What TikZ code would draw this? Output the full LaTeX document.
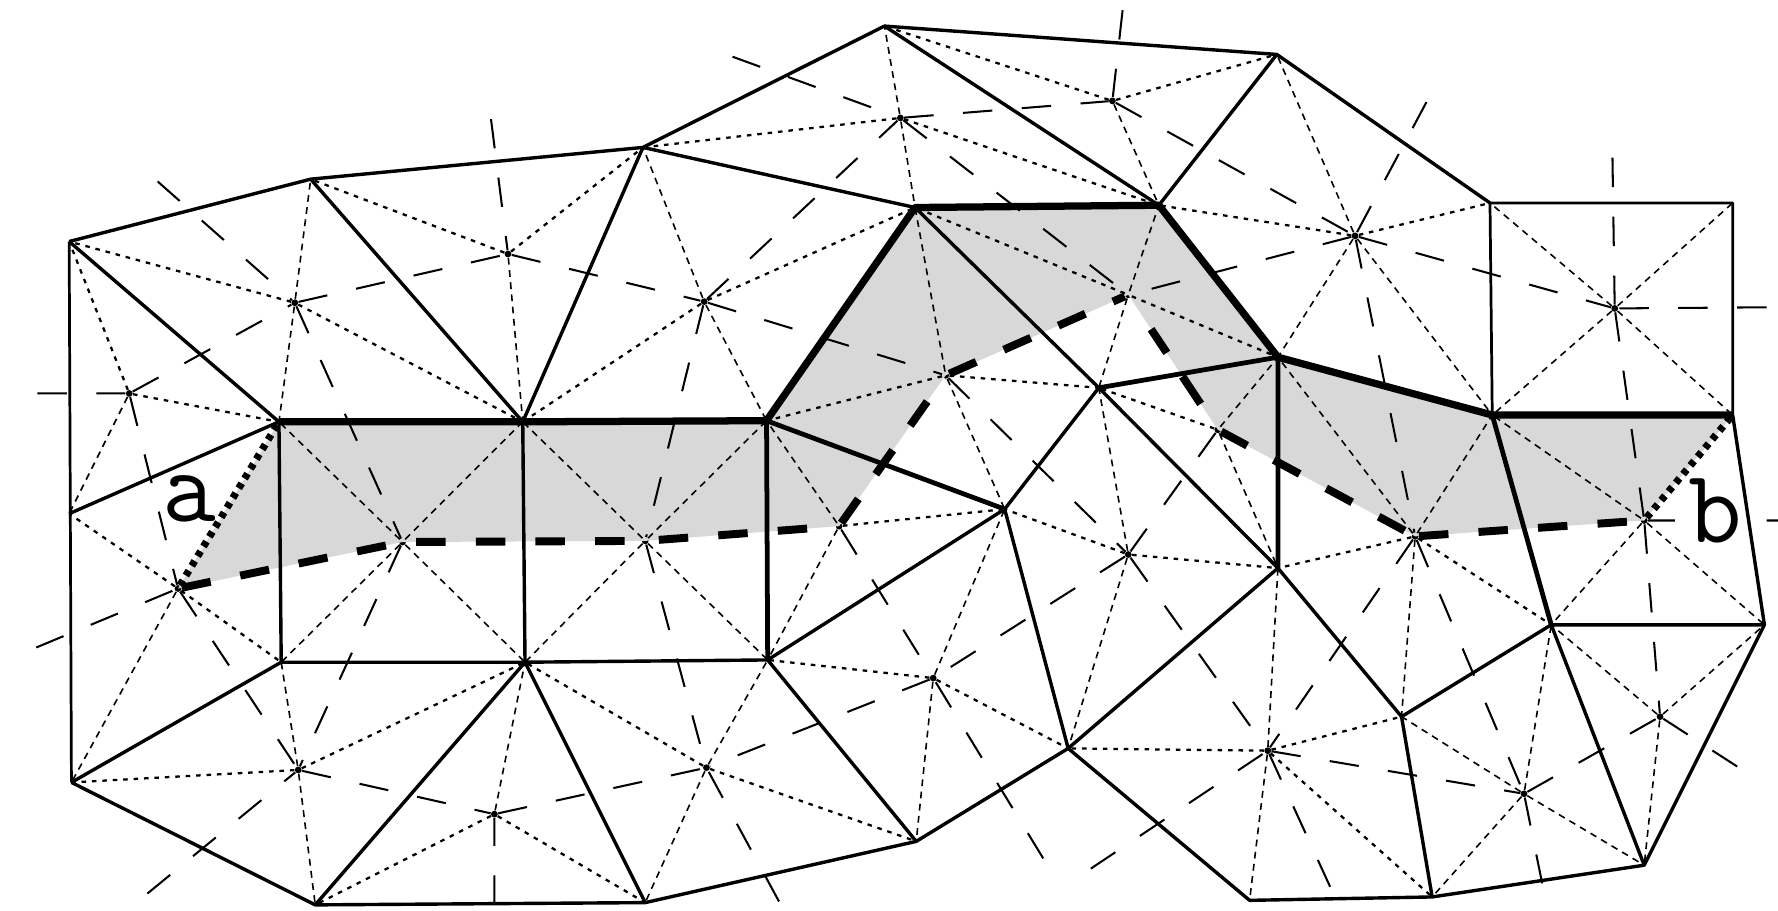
\documentclass[tikz,border=0pt]{standalone}
\usepackage{xcolor}
\usetikzlibrary{positioning}
\definecolor{greyfill}{RGB}{216,216,216}
\tikzset{
  edg/.style    ={draw=black, line width=1.5pt, line join=round},
  thinedg/.style={draw=black, line width=1.2pt, line join=round},
  medg/.style   ={draw=black, line width=2.1pt, line join=round},
  hvy/.style    ={draw=black, line width=3.2pt, line join=round},
  dot/.style    ={draw=black, line width=1pt, dash pattern=on 2pt off 2.6pt},
  das/.style    ={draw=black, line width=.7pt, dash pattern=on 3pt off 2.4pt},
  vor/.style    ={draw=black, line width=.9pt, dash pattern=on 13pt off 13pt},
  hvydash/.style={draw=black, line width=3.5pt, dash pattern=on 13pt off 13.3pt},
  hvydot/.style ={draw=black, line width=3.2pt, dash pattern=on 2.5pt off 2.5pt},
  ctr/.style    ={circle, fill=black, inner sep=0pt, minimum size=3pt},
  lbl/.style    ={font=\ttfamily\fontsize{46}{46}\selectfont, inner sep=0pt},
}
\begin{document}
\begin{tikzpicture}[x=.5pt,y=-.5pt]
\useasboundingbox (0,0) rectangle (1568,803);

\coordinate (p1) at (61,213);   \coordinate (p2) at (274,158);   \coordinate (p3) at (567,130);
\coordinate (p4) at (780,23);   \coordinate (p5) at (1126,48);   \coordinate (p6) at (1314,179);
\coordinate (p7) at (1528,179); \coordinate (p8) at (1022,181);  \coordinate (p9) at (807,183);
\coordinate (p10) at (246,372); \coordinate (p11) at (461,372);  \coordinate (p12) at (676,371);
\coordinate (p13) at (1127,315);\coordinate (p14) at (1316,366); \coordinate (p15) at (1528,366);
\coordinate (p16) at (969,342); \coordinate (p17) at (61,453);   \coordinate (p18) at (248,584);
\coordinate (p19) at (463,584); \coordinate (p20) at (677,582);  \coordinate (p21) at (886,449);
\coordinate (p22) at (1127,501);\coordinate (p23) at (1368,551); \coordinate (p24) at (1556,551);
\coordinate (p25) at (63,690);  \coordinate (p26) at (278,798);  \coordinate (p27) at (569,796);
\coordinate (p28) at (808,742); \coordinate (p29) at (942,660);  \coordinate (p30) at (1236,632);
\coordinate (p31) at (1102,794);\coordinate (p32) at (1263,791); \coordinate (p33) at (1450,763);

\node[ctr] (c1) at (114,347) {};   \node[ctr] (c2) at (260,267) {};   \node[ctr] (c3) at (448,224) {};
\node[ctr] (c4) at (621,266) {};   \node[ctr] (c5) at (794,104) {};   \node[ctr] (c6) at (981,89) {};
\node[ctr] (c7) at (1195,208) {};  \node[ctr] (c8) at (1424,272) {};  \node[ctr] (c9) at (995,260) {};
\node[ctr] (c10) at (834,331) {};  \node[ctr] (c11) at (157,519) {};  \node[ctr] (c12) at (355,478) {};
\node[ctr] (c13) at (569,477) {};  \node[ctr] (c14) at (740,464) {};  \node[ctr] (c15) at (1074,379) {};
\node[ctr] (c16) at (1248,473) {}; \node[ctr] (c17) at (1450,459) {}; \node[ctr] (c18) at (995,489) {};
\node[ctr] (c19) at (823,598) {};  \node[ctr] (c20) at (1118,662) {}; \node[ctr] (c21) at (1344,700) {};
\node[ctr] (c22) at (1464,632) {}; \node[ctr] (c23) at (263,679) {};  \node[ctr] (c24) at (436,718) {};
\node[ctr] (c25) at (623,677) {};

\coordinate (r1) at (33,347);    \coordinate (r2) at (139,160);   \coordinate (r3) at (433,105);
\coordinate (r5) at (646,50);    \coordinate (r6) at (990,9);     \coordinate (r7) at (1258,90);
\coordinate (r8a) at (1422,139); \coordinate (r8b) at (1558,271); \coordinate (r11) at (32,571);
\coordinate (r17a) at (1477,459);\coordinate (r17b) at (1558,459);\coordinate (r17c) at (1568,459);
\coordinate (r19) at (920,757);  \coordinate (r20a) at (962,766); \coordinate (r20b) at (1173,782);
\coordinate (r21) at (1360,779); \coordinate (r22) at (1532,676); \coordinate (r23) at (130,788);
\coordinate (r24) at (436,798);  \coordinate (r25) at (687,795);

\fill[greyfill] (p10)--(p11)--(p12)--(p9)--(p8)--(p13)--(p14)--(p15)--(c17.center)--(c16.center)--(c15.center)
  --(c9.center)--(c10.center)--(c14.center)--(c13.center)--(c12.center)--(c11.center)--cycle;

\draw[dot] (c1)--(p1) (c1)--(p10) (c2)--(p1) (c2)--(p11) (c3)--(p2) (c3)--(p3) (c4)--(p9) (c4)--(p11);
\draw[dot] (c5)--(p3) (c5)--(p8) (c6)--(p4) (c6)--(p5) (c7)--(p8) (c7)--(p6) (c9)--(p9) (c9)--(p13);
\draw[dot] (c10)--(p12) (c10)--(p16) (c14)--(p21) (c15)--(p16) (c16)--(p22) (c16)--(p23) (c18)--(p21) (c18)--(p22);
\draw[dot] (c19)--(p20) (c19)--(p29) (c20)--(p29) (c20)--(p30) (c20)--(p32) (c23)--(p19) (c23)--(p25);
\draw[dot] (c24)--(p26) (c24)--(p27) (c25)--(p19) (c25)--(p28) (c11)--(p17) (c11)--(p18);

\draw[das] (c1)--(p17) (c2)--(p2) (c2)--(p10) (c3)--(p11) (c4)--(p3) (c4)--(p12) (c5)--(p4) (c5)--(p9);
\draw[das] (c6)--(p8) (c7)--(p5) (c7)--(p13) (c7)--(p14) (c8)--(p6) (c8)--(p7) (c8)--(p14) (c8)--(p15);
\draw[das] (c9)--(p8) (c9)--(p16) (c10)--(p9) (c10)--(p21) (c11)--(p25) (c12)--(p10) (c12)--(p11) (c12)--(p18) (c12)--(p19);
\draw[das] (c13)--(p11) (c13)--(p12) (c13)--(p19) (c13)--(p20) (c14)--(p12) (c14)--(p20) (c15)--(p13) (c15)--(p22);
\draw[das] (c16)--(p13) (c16)--(p14) (c16)--(p30) (c17)--(p14) (c17)--(p23) (c17)--(p24) (c18)--(p16) (c18)--(p29);
\draw[das] (c19)--(p21) (c19)--(p28) (c20)--(p22) (c20)--(p31) (c21)--(p30) (c21)--(p23) (c21)--(p32) (c21)--(p33);
\draw[das] (c22)--(p23) (c22)--(p24) (c22)--(p33) (c23)--(p18) (c23)--(p26) (c24)--(p19) (c25)--(p20) (c25)--(p27);

\draw[vor] (r1)--(c1) (c1)--(c2) (c1)--(c11) (r2)--(c2) (c2)--(c3) (c2)--(c12) (r3)--(c3);
\draw[vor] (c3)--(c4) (c4)--(c5) (c4)--(c10) (c4)--(c13) (r5)--(c5) (c5)--(c6) (c5)--(c9);
\draw[vor] (r6)--(c6) (c6)--(c7) (r7)--(c7) (c7)--(c8) (c7)--(c9) (c7)--(c16);
\draw[vor] (r8a)--(c8) (r8b)--(c8) (c8)--(c17) (c10)--(c18) (r11)--(c11) (c11)--(c23);
\draw[vor] (c12)--(c23) (c13)--(c25) (c14)--(c19) (c15)--(c18) (c16)--(c20) (c16)--(c21);
\draw[vor] (c17)--(r17a) (r17b)--(r17c) (c17)--(c22) (c18)--(c19) (c18)--(c20) (r19)--(c19) (c19)--(c25);
\draw[vor] (r20a)--(c20) (r20b)--(c20) (c20)--(c21) (r21)--(c21) (c21)--(c22) (r22)--(c22);
\draw[vor] (r23)--(c23) (c23)--(c24) (r24)--(c24) (c24)--(c25) (r25)--(c25);

\draw[thinedg] (p1)--(p25) (p6)--(p7)--(p15) (p6)--(p14);
\draw[edg] (p25)--(p26)--(p27)--(p28)--(p29)--(p31)--(p32)--(p33)--(p24)--(p15);
\draw[edg] (p1)--(p2)--(p3)--(p4)--(p5)--(p6);
\draw[edg] (p1)--(p10) (p17)--(p10) (p2)--(p11) (p3)--(p11) (p3)--(p9) (p4)--(p8) (p5)--(p8);
\draw[edg] (p9)--(p16)--(p22) (p16)--(p21) (p21)--(p20) (p21)--(p29) (p22)--(p29) (p22)--(p30);
\draw[edg] (p30)--(p23) (p30)--(p32) (p23)--(p33) (p23)--(p24) (p18)--(p19)--(p20);
\draw[edg] (p10)--(p18) (p11)--(p19) (p18)--(p25) (p19)--(p26) (p19)--(p27) (p20)--(p28);
\draw[medg] (p12)--(p21) (p16)--(p13) (p13)--(p22) (p12)--(p20) (p14)--(p23);
\draw[hvy] (p10)--(p11)--(p12)--(p9)--(p8)--(p13)--(p14)--(p15);

\draw[hvydash] (c11)--(c12);
\draw[hvydash,dash phase=22pt] (c12)--(c13)--(c14);
\draw[hvydash] (c14)--(c10)--(c9);
\draw[hvydash,dash pattern=on 0pt off 16.5pt on 12.5pt off 12.5pt on 14.5pt off 100pt] (c9)--(c15);
\draw[hvydash] (c15)--(c16)--(c17);
\draw[hvydot] (c11)--(p10);
\draw[hvydot] (c17)--(p15);

\node[lbl] (labela) at (167,440) {a};
\node[lbl] (labelb) at (1513,451) {b};
\end{tikzpicture}
\end{document}
